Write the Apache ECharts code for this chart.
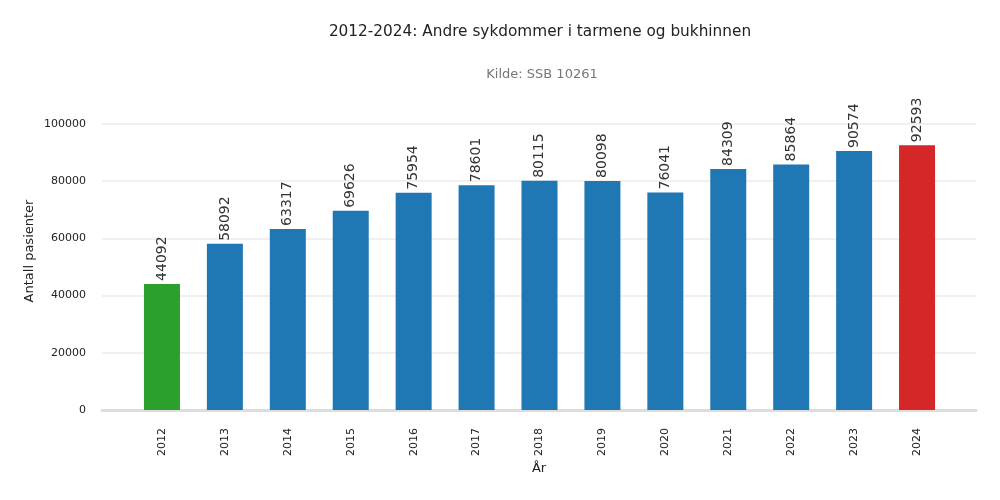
<!DOCTYPE html>
<html>
<head>
<meta charset="utf-8">
<script src="https://cdn.jsdelivr.net/npm/echarts@6/dist/echarts.min.js"></script>
<style>
  html, body { margin: 0; padding: 0; background: #fff; }
  #chart { width: 1000px; height: 500px; }
</style>
</head>
<body>
<div id="chart"></div>
<script>
// data
const years = ['2012', '2013', '2014', '2015', '2016', '2017', '2018', '2019', '2020', '2021', '2022', '2023', '2024'];
const patients = [44092, 58092, 63317, 69626, 75954, 78601, 80115, 80098, 76041, 84309, 85864, 90574, 92593];
const yTicks = [0, 20000, 40000, 60000, 80000, 100000];

const font = 'DejaVu Sans';
const lastIdx = years.length - 1;

const option = {
    animation: false,
    textStyle: { fontFamily: font },
    title: [
        {
            text: '2012-2024: Andre sykdommer i tarmene og bukhinnen',
            left: 535, top: 20, textAlign: 'center',
            textStyle: { fontSize: 15.3, fontWeight: 'normal', color: '#222', fontFamily: font }
        },
        {
            text: 'Kilde: SSB 10261',
            left: 537, top: 63, textAlign: 'center',
            textStyle: { fontSize: 13, fontWeight: 'normal', color: '#777', fontFamily: font }
        }
    ],
    graphic: [
        {
            // y axis title, centred on the full axes box like the original
            type: 'text', x: 30, y: 251, rotation: Math.PI / 2,
            style: { text: 'Antall pasienter', fontSize: 13, fill: '#222', fontFamily: font, align: 'center', verticalAlign: 'middle' }
        }
    ],
    grid: [
        // frame: grid lines, y labels and base line
        { left: 102, right: 24, top: 124, bottom: 90 },
        // bars
        { left: 130.5, right: 51.5, top: 124, bottom: 90 }
    ],
    xAxis: [
        {
            gridIndex: 0, type: 'category', data: [''],
            name: 'År', nameLocation: 'middle', nameGap: 52,
            nameTextStyle: { fontSize: 13, color: '#222', fontFamily: font },
            axisLine: { lineStyle: { color: '#dddddd', width: 3 } },
            axisTick: { show: false }, axisLabel: { show: false }
        },
        {
            gridIndex: 1, type: 'category', data: years,
            axisLine: { show: false }, axisTick: { show: false },
            axisLabel: { rotate: 90, fontSize: 11, color: '#222', margin: 18, fontFamily: font }
        }
    ],
    yAxis: [
        {
            gridIndex: 0, type: 'value', min: yTicks[0], max: yTicks[yTicks.length - 1], interval: 20000,
            axisLine: { show: false }, axisTick: { show: false },
            axisLabel: { fontSize: 11, color: '#222', margin: 16, fontFamily: font, formatter: v => String(v) },
            splitLine: { lineStyle: { color: '#ebebeb', width: 1.5 } }
        },
        {
            gridIndex: 1, type: 'value', min: yTicks[0], max: yTicks[yTicks.length - 1], interval: 20000,
            axisLine: { show: false }, axisTick: { show: false },
            axisLabel: { show: false }, splitLine: { show: false }
        }
    ],
    series: [
        {
            type: 'bar',
            xAxisIndex: 1, yAxisIndex: 1,
            data: patients,
            barWidth: 36,
            itemStyle: {
                color: p => p.dataIndex === 0 ? '#2ca02c' : (p.dataIndex === lastIdx ? '#d62728' : '#1f77b4')
            },
            label: {
                show: true, position: 'top', rotate: 90, align: 'left', verticalAlign: 'middle',
                distance: 3, fontSize: 14, color: '#333', fontFamily: font
            }
        }
    ]
};

const myChart = echarts.init(document.getElementById('chart'));
myChart.setOption(option);
</script>
</body>
</html>
